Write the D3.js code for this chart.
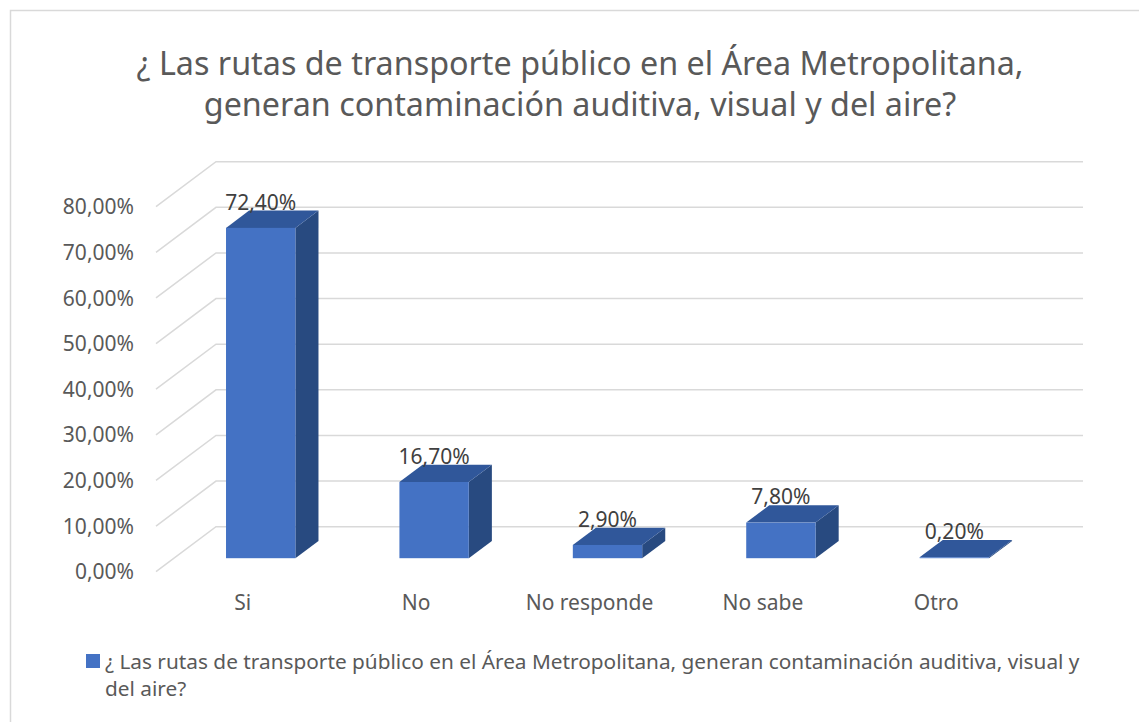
<!DOCTYPE html>
<html>
<head>
<meta charset="utf-8">
<script src="https://cdn.jsdelivr.net/npm/d3@7"></script>
<style>
  body { margin: 0; background: #fff; }
  svg { display: block; font-family: "Noto Sans", sans-serif; }
</style>
</head>
<body>
<svg id="chart" width="1139" height="722"></svg>
<script>
const titleLines = ['¿ Las rutas de transporte público en el Área Metropolitana,', 'generan contaminación auditiva, visual y del aire?']
const legendLines = ['¿ Las rutas de transporte público en el Área Metropolitana, generan contaminación auditiva, visual y', 'del aire?']
const categories = ['Si', 'No', 'No responde', 'No sabe', 'Otro']
const values = [0.724, 0.167, 0.029, 0.078, 0.002]
const yTicks = [0, 0.1, 0.2, 0.3, 0.4, 0.5, 0.6, 0.7, 0.8]

const fmt = v => d3.format('.2f')(v * 100).replace('.', ',') + '%'

const svg = d3.select('#chart')

// chart border
svg.append('rect')
    .attr('x', 10.5).attr('y', 10.5)
    .attr('width', 1140).attr('height', 730)
    .attr('fill', 'none').attr('stroke', '#d9d9d9').attr('stroke-width', 1.5)

// title
svg.append('text')
    .attr('text-anchor', 'middle')
    .attr('fill', '#595959')
    .attr('font-size', 32.3)
    .selectAll('tspan')
    .data(titleLines)
    .enter()
    .append('tspan')
    .attr('x', 580)
    .attr('y', (d, i) => 75 + i * 41)
    .text(d => d)

// scales (front plane) + depth offsets
const x = d3.scaleBand().domain(categories).range([156, 1023]).paddingInner(0.6).paddingOuter(0.3)
const xCat = d3.scaleBand().domain(categories).range([156, 1023])
const y = d3.scaleLinear().domain([0, 0.8]).range([571.7, 206.7])
const dx = d3.scaleLinear().domain([0, 1]).range([0, 60])
const dy = d3.scaleLinear().domain([0, 1]).range([0, -45])
const d0 = 0.3, d1 = 0.685

// gridlines: back wall + side floor diagonals
const grid = svg.append('g').attr('stroke', '#d9d9d9').attr('stroke-width', 1.5).attr('fill', 'none')
grid.selectAll('path')
    .data(yTicks)
    .enter()
    .append('path')
    .attr('d', t => `M${156},${y(t)}L${156 + dx(1)},${y(t) + dy(1)}L${1023 + dx(1)},${y(t) + dy(1)}`)

// y labels
svg.append('g')
    .selectAll('text')
    .data(yTicks)
    .enter()
    .append('text')
    .attr('x', 134)
    .attr('y', t => y(t))
    .attr('dy', '0.36em')
    .attr('text-anchor', 'end')
    .attr('font-size', 21)
    .attr('fill', '#595959')
    .text(fmt)

// bars
const bars = svg.append('g')
    .selectAll('g')
    .data(categories.map((c, i) => ({ c, v: values[i] })))
    .enter()
    .append('g')

const fx = d => x(d.c) + dx(d0)
const fy0 = d => y(0) + dy(d0)
const fy1 = d => y(d.v) + dy(d0)
const ox = dx(d1) - dx(d0)
const oy = dy(d1) - dy(d0)

bars.append('path') // side
    .attr('fill', '#284a80')
    .attr('d', d => {
        const r = fx(d) + x.bandwidth()
        return `M${r},${fy0(d)}L${r + ox},${fy0(d) + oy}L${r + ox},${fy1(d) + oy}L${r},${fy1(d)}Z`
    })
bars.append('path') // top
    .attr('fill', '#30579a')
    .attr('d', d => {
        const l = fx(d), r = l + x.bandwidth(), t = fy1(d)
        return `M${l},${t}L${r},${t}L${r + ox},${t + oy}L${l + ox},${t + oy}Z`
    })
bars.append('rect') // front
    .attr('fill', '#4472c4')
    .attr('x', fx)
    .attr('y', fy1)
    .attr('width', x.bandwidth())
    .attr('height', d => fy0(d) - fy1(d))

// data labels
bars.append('text')
    .attr('x', d => fx(d) + x.bandwidth() / 2)
    .attr('y', d => fy1(d) + oy - 1)
    .attr('text-anchor', 'middle')
    .attr('font-size', 21)
    .attr('fill', '#404040')
    .text(d => fmt(d.v))

// category labels
svg.append('g')
    .selectAll('text')
    .data(categories)
    .enter()
    .append('text')
    .attr('x', c => xCat(c) + xCat.bandwidth() / 2)
    .attr('y', 610)
    .attr('text-anchor', 'middle')
    .attr('font-size', 21)
    .attr('fill', '#595959')
    .text(c => c)

// legend
svg.append('rect')
    .attr('x', 86).attr('y', 654).attr('width', 14).attr('height', 14)
    .attr('fill', '#4472c4')
svg.append('text')
    .attr('fill', '#595959')
    .attr('font-size', 20.8)
    .selectAll('tspan')
    .data(legendLines)
    .enter()
    .append('tspan')
    .attr('x', 105)
    .attr('y', (d, i) => 669 + i * 27)
    .text(d => d)
</script>
</body>
</html>
